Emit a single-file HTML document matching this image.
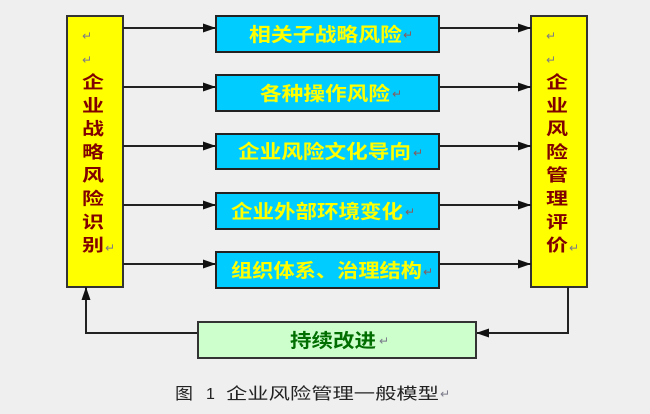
<!DOCTYPE html>
<html><head><meta charset="utf-8"><style>
html,body{margin:0;padding:0;background:#efefef;}
svg{display:block;}
text{font-family:"Liberation Sans","Noto Sans CJK SC",sans-serif;}
.b{font-weight:bold;}
.ret{fill:#7a7a8a;font-size:12px;font-family:"DejaVu Sans",sans-serif;}
.retr{fill:#8a5a5a;font-size:12px;font-family:"DejaVu Sans",sans-serif;}
</style></head><body>
<svg width="650" height="414" viewBox="0 0 650 414" xmlns="http://www.w3.org/2000/svg">
<defs>
<marker id="ah" markerWidth="14" markerHeight="10" refX="13" refY="4.5" orient="auto" markerUnits="userSpaceOnUse">
<path d="M0,0 L13,4.5 L0,9 Z" fill="#111"/>
</marker>
</defs>
<rect width="650" height="414" fill="#efefef"/>

<!-- left yellow box -->
<rect x="67" y="16" width="56" height="271" fill="#ffff00" stroke="#333" stroke-width="2"/>
<!-- right yellow box -->
<rect x="531" y="16" width="56" height="271" fill="#ffff00" stroke="#333" stroke-width="2"/>

<!-- connectors -->
<g stroke="#222" stroke-width="2" fill="none">
<line x1="123" y1="28" x2="216" y2="28" marker-end="url(#ah)"/>
<line x1="123" y1="87" x2="216" y2="87" marker-end="url(#ah)"/>
<line x1="123" y1="146" x2="216" y2="146" marker-end="url(#ah)"/>
<line x1="123" y1="205" x2="216" y2="205" marker-end="url(#ah)"/>
<line x1="123" y1="264" x2="216" y2="264" marker-end="url(#ah)"/>
<line x1="439" y1="28" x2="531" y2="28" marker-end="url(#ah)"/>
<line x1="439" y1="87" x2="531" y2="87" marker-end="url(#ah)"/>
<line x1="439" y1="146" x2="531" y2="146" marker-end="url(#ah)"/>
<line x1="439" y1="205" x2="531" y2="205" marker-end="url(#ah)"/>
<line x1="439" y1="264" x2="531" y2="264" marker-end="url(#ah)"/>
<polyline points="568,287 568,333 476,333" marker-end="url(#ah)"/>
<polyline points="198,333 86,333 86,287" marker-end="url(#ah)"/>
</g>

<!-- blue boxes -->
<g fill="#00ccff" stroke="#222" stroke-width="2">
<rect x="216" y="16" width="223" height="36"/>
<rect x="216" y="75" width="223" height="36"/>
<rect x="216" y="134" width="223" height="35"/>
<rect x="216" y="193" width="223" height="36"/>
<rect x="216" y="252" width="223" height="36"/>
</g>
<g class="b" fill="#ffff00" font-size="19">
<text x="249" y="41" textLength="153" lengthAdjust="spacingAndGlyphs">相关子战略风险</text>
<text x="260" y="100" textLength="130" lengthAdjust="spacingAndGlyphs">各种操作风险</text>
<text x="238" y="158" textLength="173" lengthAdjust="spacingAndGlyphs">企业风险文化导向</text>
<text x="231" y="218" textLength="172" lengthAdjust="spacingAndGlyphs">企业外部环境变化</text>
<text x="231" y="277" textLength="191" lengthAdjust="spacingAndGlyphs">组织体系、治理结构</text>
</g>
<text class="retr" x="403" y="39">↵</text>
<text class="retr" x="392" y="98">↵</text>
<text class="retr" x="413" y="157">↵</text>
<text class="retr" x="405" y="216">↵</text>
<text class="retr" x="423" y="276">↵</text>

<!-- green box -->
<rect x="198" y="322" width="278" height="36" fill="#ccffcc" stroke="#333" stroke-width="2"/>
<text class="b" x="290" y="347" font-size="19" fill="#006e00" textLength="86" lengthAdjust="spacingAndGlyphs">持续改进</text>
<text class="ret" x="379" y="345">↵</text>

<!-- left vertical text -->
<text class="ret" x="82" y="40">↵</text>
<text class="ret" x="82" y="64">↵</text>
<g class="b" fill="#800000" font-size="17">
<text x="82" y="88" textLength="22" lengthAdjust="spacingAndGlyphs">企</text>
<text x="82" y="111.3" textLength="22" lengthAdjust="spacingAndGlyphs">业</text>
<text x="82" y="134.6" textLength="22" lengthAdjust="spacingAndGlyphs">战</text>
<text x="82" y="157.9" textLength="22" lengthAdjust="spacingAndGlyphs">略</text>
<text x="82" y="181.2" textLength="22" lengthAdjust="spacingAndGlyphs">风</text>
<text x="82" y="204.5" textLength="22" lengthAdjust="spacingAndGlyphs">险</text>
<text x="82" y="227.8" textLength="22" lengthAdjust="spacingAndGlyphs">识</text>
<text x="82" y="251.1" textLength="22" lengthAdjust="spacingAndGlyphs">别</text>
</g>
<text class="ret" x="105" y="252">↵</text>

<!-- right vertical text -->
<text class="ret" x="546" y="40">↵</text>
<text class="ret" x="546" y="64">↵</text>
<g class="b" fill="#800000" font-size="17">
<text x="546" y="88" textLength="22" lengthAdjust="spacingAndGlyphs">企</text>
<text x="546" y="111.3" textLength="22" lengthAdjust="spacingAndGlyphs">业</text>
<text x="546" y="134.6" textLength="22" lengthAdjust="spacingAndGlyphs">风</text>
<text x="546" y="157.9" textLength="22" lengthAdjust="spacingAndGlyphs">险</text>
<text x="546" y="181.2" textLength="22" lengthAdjust="spacingAndGlyphs">管</text>
<text x="546" y="204.5" textLength="22" lengthAdjust="spacingAndGlyphs">理</text>
<text x="546" y="227.8" textLength="22" lengthAdjust="spacingAndGlyphs">评</text>
<text x="546" y="251.1" textLength="22" lengthAdjust="spacingAndGlyphs">价</text>
</g>
<text class="ret" x="569" y="252">↵</text>

<!-- caption -->
<g fill="#222" font-size="16">
<text x="175" y="399" textLength="18" lengthAdjust="spacingAndGlyphs">图</text>
<text x="206" y="399" font-family="Liberation Serif, serif">1</text>
<text x="226" y="399" textLength="213" lengthAdjust="spacingAndGlyphs">企业风险管理一般模型</text>
</g>
<text class="ret" x="440" y="398">↵</text>
</svg>
</body></html>
